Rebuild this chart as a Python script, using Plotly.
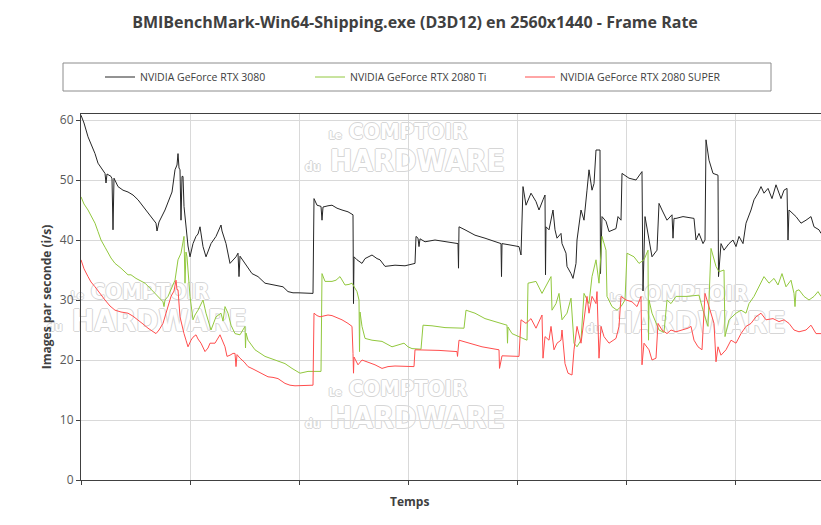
import plotly.graph_objects as go

# Temps en echantillons (0 -> 740), images par seconde
T_3080 = [0, 3, 7, 10, 14, 17, 20, 24, 25, 26, 30, 31, 32, 33, 37, 42, 47, 52, 57, 62,
          67, 72, 75, 76, 78, 84, 89, 91, 94, 96, 97, 98, 99, 100, 101, 102, 103, 105, 107, 109,
          112, 115, 117, 119, 122, 125, 128, 130, 135, 140, 141, 145, 149, 152, 155, 157, 158, 159, 164, 171,
          177, 184, 190, 194, 202, 207, 212, 217, 225, 232, 233, 236, 240, 241, 242, 244, 247, 251, 256, 261,
          267, 272, 272.5, 273, 276, 281, 284, 291, 296, 299, 304, 314, 324, 334, 335, 337, 338, 339, 344, 354,
          364, 377, 377.5, 378, 384, 394, 404, 414, 420, 420.5, 421, 428, 438, 440, 442, 445, 450, 455, 458, 462,
          464, 464.5, 465, 468, 472, 474, 476, 480, 481, 485, 486, 490, 492, 495, 496, 500, 503, 506, 508, 511,
          513, 515, 519, 519.5, 521, 525, 528, 535, 537, 540, 541, 548, 555, 561, 562, 564, 568, 571, 576, 578,
          581, 586, 591, 592, 593, 595, 602, 608, 613, 615, 618, 622, 624, 625, 628, 632, 637, 637.5, 640, 643,
          648, 652, 655, 658, 662, 665, 670, 673, 677, 680, 683, 687, 691, 695, 700, 703, 706, 707, 708, 715,
          720, 725, 730, 733, 738, 740]
FPS_3080 = [60.8, 59.5, 57.2, 56, 54.4, 52.8, 52, 51.1, 49.5, 51, 50.6, 50.2, 41.7, 50.3, 48.9, 48.3, 48, 47.5, 46.7, 45.6,
            44.4, 43.4, 42.8, 41.5, 43, 45, 47.2, 48, 51.7, 52.5, 54.4, 52, 51.7, 43.3, 50.6, 50.6, 45.6, 42.2, 39, 37.2,
            39.4, 40.6, 41, 42.2, 38.9, 37.2, 38.5, 39.4, 40.6, 42.5, 41.5, 39.4, 36.1, 36.7, 37.2, 37.8, 33.9, 37.3, 36.1, 34.4,
            33.9, 32.8, 32.6, 32.5, 32.2, 31.4, 31.2, 31.2, 31.1, 31.1, 46.9, 45.8, 45.6, 43.3, 45.5, 45.6, 45.7, 45.8, 45.3, 45,
            44.7, 44.2, 29.4, 37.2, 36.7, 36.1, 36.9, 37.5, 36.9, 36.7, 35.6, 35.8, 35.7, 36.1, 40.6, 40.3, 38.9, 40.2, 39.7, 40,
            39.7, 39.4, 35.3, 42.2, 41.7, 40.8, 40.3, 39.7, 39.4, 33.9, 39.4, 39.2, 38.9, 37.5, 48.9, 45.8, 47.8, 46.4, 45, 46.7,
            47.5, 34.2, 42.2, 41.7, 45, 41.7, 40.3, 41.1, 39.4, 37.8, 35.6, 34.4, 33.6, 36.1, 40, 45, 43.3, 48.3, 51.7, 48.3,
            49.4, 55, 55, 34.4, 43.9, 43.1, 41.4, 41.9, 43.9, 43.3, 51.1, 50.3, 50, 51.4, 31.5, 43.9, 40, 37.2, 38.3, 46.1,
            45, 43.3, 44.2, 40.3, 43.6, 43.6, 43.9, 43.8, 43.6, 40, 41.1, 39.4, 40, 56.7, 53.3, 51.1, 50.8, 33.9, 39.4, 38.3,
            39.4, 40, 38.9, 40.6, 39.4, 42.8, 45, 46.7, 47.8, 48.9, 47.8, 48.6, 46.9, 49.2, 46.9, 48.3, 48.6, 40, 45, 43.9,
            42.8, 43.3, 43.9, 42.2, 41.7, 41.1]

T_2080TI = [0, 3, 7, 10, 14, 17, 20, 24, 27, 30, 34, 40, 47, 50, 55, 60, 64, 70, 74, 78,
            82, 83, 84, 87, 90, 94, 97, 100, 103, 104, 105, 106, 109, 112, 114, 117, 122, 125, 130, 135,
            140, 142, 144, 147, 150, 154, 159, 164, 164.5, 165, 167, 174, 184, 194, 204, 211, 219, 227, 240, 241,
            244, 251, 255, 259, 264, 268, 271, 276, 278, 278.5, 279, 281, 284, 291, 301, 311, 318, 323, 327, 331,
            340, 342, 351, 364, 383, 385, 394, 404, 414, 426, 426.5, 427, 431, 438, 446, 447, 455, 461, 468, 470,
            471, 475, 478, 481, 486, 490, 493, 496, 500, 503, 508, 511, 515, 518, 521, 525, 526, 531, 536, 540,
            544, 546, 553, 558, 563, 567, 567.5, 568, 571, 578, 583, 586, 590, 595, 605, 618, 622, 627, 630, 635,
            638, 643, 644, 648, 655, 660, 665, 668, 673, 677, 683, 688, 693, 697, 701, 705, 710, 713, 714, 715,
            718, 723, 728, 733, 737, 740]
FPS_2080TI = [47.2, 46, 45, 44, 42.8, 41.4, 40, 38.8, 37.8, 37, 36.1, 35.3, 34.2, 34.2, 33.6, 33.2, 32.8, 31.8, 31.1, 30.3,
              29.7, 28.9, 30, 30.6, 31.9, 33.3, 36.7, 37.8, 40.6, 32.8, 38, 37.2, 30.6, 26.7, 27.5, 28.3, 30, 27.8, 25, 27.2,
              27.8, 26.5, 28.9, 27.8, 25.8, 24.4, 24.2, 25.6, 22, 24.5, 23.3, 21.7, 20.6, 20, 19.4, 18.6, 17.8, 18.1, 18.1, 34.4,
              33.1, 33.1, 33.3, 33.9, 32.5, 32.6, 32.8, 31.4, 30, 21.4, 28, 25.6, 23.6, 23.3, 23.1, 22.2, 22.5, 22.8, 22.2, 21.9,
              21.8, 25.8, 25.7, 25.4, 25.3, 28.3, 27.8, 26.9, 26.4, 25.8, 22.8, 25.5, 24.4, 23.9, 23.3, 32.8, 33.1, 31.1, 33.3, 33.9,
              28.3, 29.4, 31.1, 26.7, 27.8, 30.3, 22.8, 22.2, 23.3, 31.1, 29.4, 33.9, 36.7, 32.8, 40.6, 38.3, 30.6, 28.9, 28.3, 28.9,
              30, 37.8, 37.2, 36.1, 36.7, 38.3, 23.3, 30, 27.8, 25, 24.6, 30, 29.4, 30.6, 30.6, 30.8, 28.3, 25.6, 38.6, 35.6,
              34.7, 35, 23.9, 26.7, 27.8, 28.3, 27.8, 29.4, 30.6, 31.9, 33.9, 32.8, 33.6, 32.5, 34.4, 32.2, 33.3, 31.1, 28.9, 31.5,
              31.7, 30.6, 30, 30.6, 31.4, 30.6]

T_2080S = [0, 3, 7, 10, 14, 19, 24, 29, 34, 40, 47, 52, 57, 62, 67, 72, 75, 78, 82, 85,
           88, 90, 93, 95, 96, 97, 99, 101, 103, 105, 107, 110, 112, 115, 117, 120, 124, 127, 129, 134,
           139, 144, 146, 149, 152, 154, 155, 156, 159, 163, 167, 172, 177, 182, 187, 192, 197, 204, 209, 214,
           224, 232, 233, 236, 239, 243, 247, 251, 254, 261, 267, 271, 272, 272.5, 273, 277, 281, 284, 287, 291,
           294, 301, 307, 314, 324, 333, 334, 344, 358, 376, 376.5, 378, 388, 401, 418, 418.5, 421, 438, 440, 445,
           450, 455, 461, 462, 464, 468, 470, 473, 476, 480, 481, 484, 487, 491, 493, 496, 500, 503, 506, 508,
           511, 515, 516, 518, 520, 523, 528, 535, 538, 540, 545, 551, 556, 560, 561, 563, 568, 571, 575, 577,
           581, 586, 590, 595, 602, 607, 610, 613, 617, 621, 624, 627, 630, 633, 635, 637, 640, 645, 650, 655,
           660, 665, 670, 675, 680, 685, 692, 698, 703, 708, 713, 718, 725, 730, 735, 740]
FPS_2080S = [36.7, 35.2, 33.9, 33, 32.2, 31, 30, 29, 28.3, 28, 27.8, 27.3, 26.7, 26, 25.3, 24.8, 24.4, 25, 26.1, 27.8,
             29.5, 30.6, 31.5, 33.3, 31.7, 31.7, 27.2, 25.6, 24.4, 23.3, 22.2, 23.3, 23.8, 24.2, 23.5, 22.8, 21.4, 22, 22.8, 22.8,
             24.2, 22.2, 20.6, 20.8, 21.1, 21.1, 18.9, 20.9, 20.3, 19.7, 18.9, 18.5, 18.1, 17.7, 17.2, 17.1, 16.9, 16.1, 15.8, 15.7,
             15.8, 15.8, 27.8, 27.4, 27.2, 27.3, 27.5, 27.4, 27.2, 26.7, 26.1, 25.6, 21.1, 17.8, 20.5, 19.2, 20, 19.8, 19.7, 19.4,
             19.2, 18.6, 18.9, 19, 18.9, 18.9, 21.7, 21.7, 21.6, 21.4, 20.6, 23.3, 22.8, 22.2, 21.7, 18.6, 20.7, 20.6, 26.7, 26.1,
             26.9, 25.3, 27.5, 20.3, 23.9, 23.3, 25.6, 21.7, 22.8, 23.3, 25, 19.4, 17.8, 17.5, 21.7, 25.6, 22.8, 27.2, 30.6, 27.8,
             30.6, 29.4, 31.4, 20.3, 25.6, 23.9, 22.8, 23.6, 25.6, 30.6, 30, 29.7, 28.9, 30.6, 19.2, 22.8, 21.7, 20, 20.3, 26.1,
             25, 24.4, 25, 24.7, 25, 25.3, 25.6, 23.3, 22.2, 21.7, 31.1, 29.4, 27.8, 26.1, 19.7, 22.2, 20.8, 21.7, 23.3, 22.8,
             24.4, 25.6, 26.1, 27.2, 27.8, 26.7, 26.9, 26.4, 26.7, 26.1, 25, 24.7, 25, 25.8, 24.4, 24.4]

SERIES = [
    ("NVIDIA GeForce RTX 3080", T_3080, FPS_3080, "#262626"),
    ("NVIDIA GeForce RTX 2080 Ti", T_2080TI, FPS_2080TI, "#92c83e"),
    ("NVIDIA GeForce RTX 2080 SUPER", T_2080S, FPS_2080S, "#ff4d4d"),
]

TITLE = "BMIBenchMark-Win64-Shipping.exe (D3D12) en 2560x1440 - Frame Rate"
INK = "#404040"
GRID = "#d9d9d9"

# zone de trace en pixels
L, R, TOP, BOT, W, H = 81, 821, 114, 480, 821, 525


def px(x):
    return (x - L) / (R - L)


def py(y):
    return (BOT - y) / (BOT - TOP)


fig = go.Figure()
for name, t, v, col in SERIES:
    fig.add_trace(go.Scatter(x=t, y=v, mode="lines", name=name,
                             line=dict(color=col, width=1)))

# filigrane "Le COMPTOIR du HARDWARE"
OUTLINE = ", ".join(f"{a}px {b}px 0 #d6d6d6" for a, b in
                    [(1, 0), (-1, 0), (0, 1), (0, -1)])
WM_FONT = "Liberation Sans Narrow, DejaVu Sans Condensed, Roboto"
shapes = []
for dx, dy in [(0, 0), (-258, 160), (0, 257), (281, 162)]:
    for txt, cx, cy, size in [("<span style='font-size:11px'>Le</span> COMPTOIR", 398, 129, 22),
                              ("<span style='font-size:12px'>du</span> HARDWARE", 405, 158, 30)]:
        shapes.append(dict(
            type="rect", xref="paper", yref="paper", layer="below",
            x0=px(cx + dx - 5), x1=px(cx + dx + 5),
            y0=py(cy + dy + 5), y1=py(cy + dy - 5),
            line=dict(width=0),
            label=dict(text=txt, textposition="middle center",
                       font=dict(family=WM_FONT, size=size, color="white",
                                 weight="bold", shadow=OUTLINE))))

# cadre de la legende
shapes.append(dict(type="rect", xref="paper", yref="paper",
                   x0=px(63), x1=px(771), y0=py(91), y1=py(63),
                   line=dict(color="#8c8c8c", width=1), fillcolor="white", layer="below"))

fig.update_layout(
    width=W, height=H,
    paper_bgcolor="white", plot_bgcolor="rgba(0,0,0,0)",
    font=dict(family="Open Sans", color=INK),
    margin=dict(l=L, r=W - R, t=TOP, b=H - BOT),
    title=dict(text=f"<b>{TITLE}</b>", x=415 / W, xref="container", xanchor="center",
               y=1 - 22 / H, yref="container", yanchor="middle",
               font=dict(size=16, color=INK)),
    showlegend=True,
    legend=dict(orientation="h", x=px(100), y=py(77), xanchor="left", yanchor="middle",
                bgcolor="rgba(0,0,0,0)", entrywidth=165, entrywidthmode="pixels",
                font=dict(size=10.5, color=INK)),
    shapes=shapes,
    annotations=[dict(text="<b>Temps</b>", xref="paper", yref="paper",
                      x=px(409), y=py(501), yanchor="middle", showarrow=False,
                      font=dict(size=12, color=INK))],
)

fig.update_xaxes(range=[0, 740], tick0=0, dtick=109, showticklabels=False,
                 showgrid=True, gridcolor=GRID, gridwidth=1, zeroline=False,
                 showline=True, linecolor=INK, linewidth=1, mirror=True,
                 ticks="outside", ticklen=4, tickcolor=INK)
fig.update_yaxes(range=[0, 61], tick0=0, dtick=10,
                 showgrid=True, gridcolor=GRID, gridwidth=1, zeroline=False,
                 showline=True, linecolor=INK, linewidth=1,
                 ticks="outside", ticklen=4, tickcolor=INK,
                 tickfont=dict(size=12, color="#595959"),
                 title=dict(text="<b>Images par seconde (i/s)</b>", standoff=5,
                            font=dict(size=12, color=INK)))

fig.write_html("out.html", config={"displayModeBar": False},
               post_script="document.body.style.margin='0';document.body.style.overflow='hidden';")
